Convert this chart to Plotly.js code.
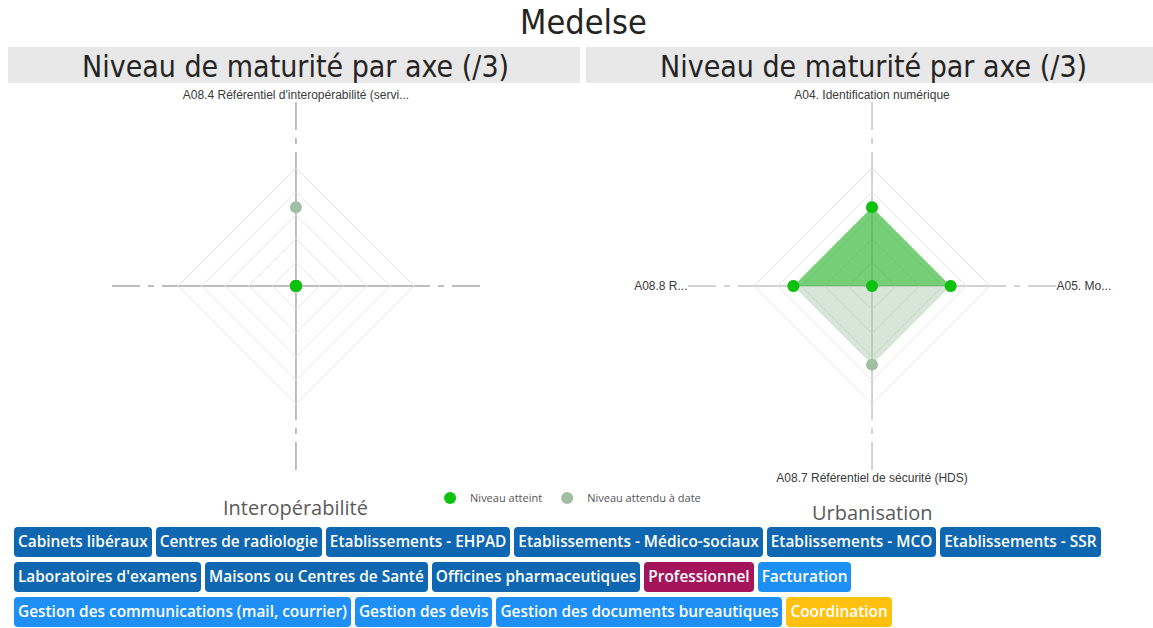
<!DOCTYPE html>
<html>
<head>
<meta charset="utf-8">
<script src="https://cdn.plot.ly/plotly-3.0.1.min.js"></script>
<style>
  html, body { margin: 0; padding: 0; background: #fff; }
  #wrap { position: relative; width: 1153px; height: 628px; overflow: hidden; }
  #chart { position: absolute; left: 0; top: 0; width: 1153px; height: 628px; }
  #tags {
    position: absolute; left: 14px; top: 527px; width: 1139px;
    display: flex; flex-wrap: wrap; gap: 5px 4px;
  }
  .tag {
    height: 30px; line-height: 30px; padding: 0 4px; border-radius: 4px;
    color: #fff; font-family: "Open Sans", "Noto Sans", sans-serif;
    font-weight: 600; font-size: 15.4px; white-space: nowrap;
  }
</style>
</head>
<body>
<div id="wrap">
  <div id="chart"></div>
  <div id="tags"></div>
</div>
<script>
// axes of each radar
var interopAxes = ["A08.4 Référentiel d'interopérabilité (servi...", " ", "  ", "   "];
var urbaAxes = ["A04. Identification numérique", "A05. Mo...", "A08.7 Référentiel de sécurité (HDS)", "A08.8 R..."];

// levels (/3)
var interopAtteint = [0, 0, 0, 0];
var interopAttendu = [2, 0, 0, 0];
var urbaAtteint = [2, 2, 0, 2];
var urbaAttendu = [2, 2, 2, 2];

var ringLevels = [0.6, 1.2, 1.8, 2.4, 3];

// filter tags
var tagLabels = [
  'Cabinets libéraux', 'Centres de radiologie', 'Etablissements - EHPAD',
  'Etablissements - Médico-sociaux', 'Etablissements - MCO', 'Etablissements - SSR',
  "Laboratoires d'examens", 'Maisons ou Centres de Santé', 'Officines pharmaceutiques',
  'Professionnel', 'Facturation',
  'Gestion des communications (mail, courrier)', 'Gestion des devis',
  'Gestion des documents bureautiques', 'Coordination'
];
var tagKinds = [
  'type', 'type', 'type', 'type', 'type', 'type',
  'type', 'type', 'type',
  'profil', 'fonction',
  'fonction', 'fonction', 'fonction', 'coord'
];

var GREEN = '#0cc20c';
var GREY = '#a2bea2';
var tagColors = { type: '#0f67b1', profil: '#a3145a', fonction: '#1d8ff5', coord: '#ffc10e' };
var R_MAX = 4.68;
var LEFT_DOM = [0.0971, 0.4163], RIGHT_DOM = [0.5967, 0.9159], Y_DOM = [0.2516, 0.8376];

// fills go on the diamond-grid polar, markers on a bare circular polar laid over it
// (the diamond polar hides points sitting exactly at r = 0)
function fillTraces(axes, atteint, attendu, polar) {
  return [
    { type: 'scatterpolar', subplot: polar, r: attendu, theta: axes, mode: 'lines',
      fill: 'toself', fillcolor: 'rgba(150,190,150,0.38)', line: { width: 0 },
      hoverinfo: 'skip', showlegend: false },
    { type: 'scatterpolar', subplot: polar, r: atteint, theta: axes, mode: 'lines',
      fill: 'toself', fillcolor: 'rgba(0,180,0,0.45)', line: { width: 0 },
      hoverinfo: 'skip', showlegend: false }
  ];
}

function markerTraces(axes, atteint, attendu, polar, showLegend) {
  return [
    { type: 'scatterpolar', subplot: polar, r: attendu, theta: axes, mode: 'markers',
      name: 'Niveau attendu à date', legendgroup: 'attendu', legendrank: 2,
      marker: { color: GREY, size: 12 }, showlegend: showLegend },
    { type: 'scatterpolar', subplot: polar, r: atteint, theta: axes, mode: 'markers',
      name: 'Niveau atteint', legendgroup: 'atteint', legendrank: 1,
      marker: { color: GREEN, size: 12 }, showlegend: showLegend }
  ];
}

function gridPolar(xdom, spokeColor) {
  return {
    domain: { x: xdom, y: Y_DOM },
    bgcolor: 'rgba(0,0,0,0)',
    gridshape: 'linear',
    radialaxis: {
      range: [0, R_MAX], tickvals: ringLevels, showticklabels: false, ticks: '',
      showline: false, gridcolor: '#e4e4e4', gridwidth: 1
    },
    angularaxis: {
      direction: 'clockwise', rotation: 90, showline: false, ticks: '',
      gridcolor: spokeColor, gridwidth: 1.5, griddash: '134px,8px,6px,8px,200px',
      tickfont: { family: 'Liberation Sans, Arial, sans-serif', size: 12, color: '#3a3a3a' }
    }
  };
}

function barePolar(xdom) {
  return {
    domain: { x: xdom, y: Y_DOM },
    bgcolor: 'rgba(0,0,0,0)',
    gridshape: 'circular',
    radialaxis: { range: [0, R_MAX], visible: false },
    angularaxis: { direction: 'clockwise', rotation: 90, visible: false }
  };
}

var data = []
  .concat(fillTraces(interopAxes, interopAtteint, interopAttendu, 'polar'))
  .concat(fillTraces(urbaAxes, urbaAtteint, urbaAttendu, 'polar2'))
  .concat(markerTraces(interopAxes, interopAtteint, interopAttendu, 'polar3', false))
  .concat(markerTraces(urbaAxes, urbaAtteint, urbaAttendu, 'polar4', true));

var headFont = { family: 'Liberation Sans Narrow, DejaVu Sans Condensed, sans-serif', size: 30, color: '#252423' };
var subFont = { family: 'Open Sans, sans-serif', size: 20, color: '#5a5a5a' };

var layout = {
  width: 1153, height: 628,
  margin: { l: 0, r: 0, t: 0, b: 0 },
  paper_bgcolor: '#fff',
  title: { text: 'Medelse', x: 0.506, xanchor: 'center', y: 0.965, yanchor: 'middle',
           font: { family: headFont.family, size: 34, color: '#252423' } },
  polar: gridPolar(LEFT_DOM, '#a8a8a8'),
  polar2: gridPolar(RIGHT_DOM, '#c4c4c4'),
  polar3: barePolar(LEFT_DOM),
  polar4: barePolar(RIGHT_DOM),
  showlegend: true,
  legend: {
    orientation: 'h', x: 0.373, xanchor: 'left', y: 0.23, yanchor: 'top',
    font: { family: 'Open Sans, sans-serif', size: 11, color: '#555' },
    itemclick: false, bgcolor: 'rgba(0,0,0,0)'
  },
  shapes: [
    { type: 'rect', xref: 'paper', yref: 'paper', x0: 0.0069, x1: 0.5030, y0: 0.8678, y1: 0.9252,
      fillcolor: '#e8e8e8', line: { width: 0 }, layer: 'below' },
    { type: 'rect', xref: 'paper', yref: 'paper', x0: 0.5082, x1: 1, y0: 0.8678, y1: 0.9252,
      fillcolor: '#e8e8e8', line: { width: 0 }, layer: 'below' }
  ],
  annotations: [
    { text: 'Niveau de maturité par axe (/3)', xref: 'paper', yref: 'paper', x: 0.2567, y: 0.8949,
      xanchor: 'center', yanchor: 'middle', showarrow: false, font: headFont },
    { text: 'Niveau de maturité par axe (/3)', xref: 'paper', yref: 'paper', x: 0.7572, y: 0.8949,
      xanchor: 'center', yanchor: 'middle', showarrow: false, font: headFont },
    { text: 'Interopérabilité', xref: 'paper', yref: 'paper', x: 0.2559, y: 0.1911,
      xanchor: 'center', yanchor: 'middle', showarrow: false, font: subFont },
    { text: 'Urbanisation', xref: 'paper', yref: 'paper', x: 0.7563, y: 0.1847,
      xanchor: 'center', yanchor: 'middle', showarrow: false, font: subFont }
  ]
};

Plotly.newPlot('chart', data, layout, { displayModeBar: false, staticPlot: true });

var tagsDiv = document.getElementById('tags');
tagLabels.forEach(function (label, i) {
  var el = document.createElement('div');
  el.className = 'tag';
  el.style.background = tagColors[tagKinds[i]];
  el.textContent = label;
  tagsDiv.appendChild(el);
});
</script>
</body>
</html>
